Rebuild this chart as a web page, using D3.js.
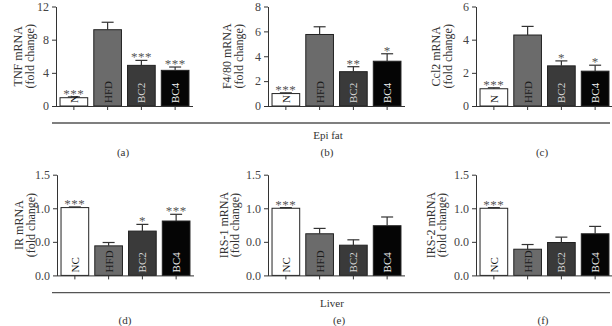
<!DOCTYPE html>
<html lang="en">
<head>
  <meta charset="UTF-8">
  <title>Epi fat / Liver mRNA</title>
  <script src="https://d3js.org/d3.v7.min.js"></script>
  <style>
    body { margin: 0; background: #fff; }
    svg text { font-family: "Liberation Serif", "Times New Roman", serif; fill: #333; }
  </style>
</head>
<body>
  <div id="chart"></div>
  <script>
    // groups shown in every panel
    const groups = ["NC", "HFD", "BC2", "BC4"];
    const topBarText = ["N", "HFD", "BC2", "BC4"];

    // Epi fat (top row) - mean and error (SEM)
    const tnfMean = [1.0, 9.2, 4.9, 4.3];
    const tnfErr = [0.1, 0.9, 0.6, 0.4];
    const tnfStars = ["***", "", "***", "***"];

    const f480Mean = [1.0, 5.75, 2.76, 3.6];
    const f480Err = [0.06, 0.62, 0.4, 0.6];
    const f480Stars = ["***", "", "**", "*"];

    const ccl2Mean = [1.04, 4.28, 2.42, 2.1];
    const ccl2Err = [0.06, 0.52, 0.3, 0.36];
    const ccl2Stars = ["***", "", "*", "*"];

    // Liver (bottom row)
    const irMean = [1.01, 0.44, 0.66, 0.81];
    const irErr = [0.01, 0.05, 0.1, 0.1];
    const irStars = ["***", "", "*", "***"];

    const irs1Mean = [1.0, 0.62, 0.45, 0.74];
    const irs1Err = [0.01, 0.08, 0.08, 0.13];
    const irs1Stars = ["***", "", "", ""];

    const irs2Mean = [1.0, 0.39, 0.49, 0.62];
    const irs2Err = [0.01, 0.07, 0.08, 0.11];
    const irs2Stars = ["***", "", "", ""];

    // tick values and the labels printed in the figure
    const ticksA = [0, 4, 8, 12];
    const ticksB = [0, 2, 4, 6, 8];
    const ticksC = [0, 2, 4, 6];
    const ticksLiver = [0, 0.5, 1.0, 1.5];
    const ticksLiverText = ["0.0", "0.0", "1.0", "1.5"];

    const fillColors = ["#ffffff", "#6b6b6b", "#3a3a3a", "#050505"];
    const labelColors = ["#111", "#1a1a1a", "#d8d8d8", "#f2f2f2"];

    const W = 612, H = 326;
    const svg = d3.select("#chart").append("svg")
      .attr("width", W).attr("height", H);

    // panel layout
    const panels = [
      { x0: 56, yTop: 6.5, yBase: 106, max: 12, ticks: ticksA, tickText: null, title: "TNF mRNA", mean: tnfMean, err: tnfErr, stars: tnfStars, barText: topBarText, lab: [-37, -25] },
      { x0: 268, yTop: 6.5, yBase: 106, max: 8, ticks: ticksB, tickText: null, title: "F4/80 mRNA", mean: f480Mean, err: f480Err, stars: f480Stars, barText: topBarText, lab: [-40, -28] },
      { x0: 476, yTop: 6.5, yBase: 106, max: 6, ticks: ticksC, tickText: null, title: "Ccl2 mRNA", mean: ccl2Mean, err: ccl2Err, stars: ccl2Stars, barText: topBarText, lab: [-39, -27] },
      { x0: 57, yTop: 174.7, yBase: 275.4, max: 1.5, ticks: ticksLiver, tickText: ticksLiverText, title: "IR mRNA", mean: irMean, err: irErr, stars: irStars, barText: groups, lab: [-37, -25] },
      { x0: 268, yTop: 174.7, yBase: 275.4, max: 1.5, ticks: ticksLiver, tickText: ticksLiverText, title: "IRS-1 mRNA", mean: irs1Mean, err: irs1Err, stars: irs1Stars, barText: groups, lab: [-43, -32] },
      { x0: 476, yTop: 174.7, yBase: 275.4, max: 1.5, ticks: ticksLiver, tickText: ticksLiverText, title: "IRS-2 mRNA", mean: irs2Mean, err: irs2Err, stars: irs2Stars, barText: groups, lab: [-44, -33] }
    ];

    panels.forEach(p => {
      const g = svg.append("g");

      const x = d3.scaleBand()
        .domain(groups)
        .range([p.x0 + 2, p.x0 + 135])
        .paddingInner(0.18)
        .paddingOuter(0.06);

      const y = d3.scaleLinear()
        .domain([0, p.max])
        .range([p.yBase, p.yTop]);

      const rows = groups.map((k, i) => ({
        key: k, mean: p.mean[i], err: p.err[i], star: p.stars[i],
        text: p.barText[i], fill: fillColors[i], tc: labelColors[i]
      }));

      // bars
      g.selectAll("rect.bar")
        .data(rows)
        .join("rect")
        .attr("class", "bar")
        .attr("x", d => x(d.key))
        .attr("y", d => y(d.mean))
        .attr("width", x.bandwidth())
        .attr("height", d => y(0) - y(d.mean))
        .attr("fill", d => d.fill)
        .attr("stroke", "#222")
        .attr("stroke-width", 1);

      // error bars (upper only)
      const cx = d => x(d.key) + x.bandwidth() / 2;
      g.selectAll("line.err")
        .data(rows)
        .join("line")
        .attr("x1", cx).attr("x2", cx)
        .attr("y1", d => y(d.mean))
        .attr("y2", d => y(d.mean + d.err))
        .attr("stroke", "#333").attr("stroke-width", 1.2);
      g.selectAll("line.cap")
        .data(rows)
        .join("line")
        .attr("x1", d => cx(d) - 6).attr("x2", d => cx(d) + 6)
        .attr("y1", d => y(d.mean + d.err))
        .attr("y2", d => y(d.mean + d.err))
        .attr("stroke", "#333").attr("stroke-width", 1.2);

      // significance stars
      g.selectAll("text.star")
        .data(rows.filter(d => d.star))
        .join("text")
        .attr("x", cx)
        .attr("y", d => y(d.mean + d.err) + 1)
        .attr("text-anchor", "middle")
        .attr("font-size", 13)
        .attr("letter-spacing", 0.5)
        .style("fill", "#555")
        .text(d => d.star);

      // labels inside the bars
      g.selectAll("text.blab")
        .data(rows)
        .join("text")
        .attr("transform", d => `translate(${cx(d) + 4},${y(0) - 3}) rotate(-90)`)
        .attr("font-size", 11)
        .style("fill", d => d.tc)
        .text(d => d.text);

      // y axis
      const yAxis = d3.axisLeft(y)
        .tickValues(p.ticks)
        .tickSize(4)
        .tickSizeOuter(0)
        .tickFormat((d, i) => p.tickText ? p.tickText[i] : d3.format("d")(d));
      const ya = g.append("g")
        .attr("transform", `translate(${p.x0},0)`)
        .call(yAxis)
        .attr("font-family", null)
        .attr("font-size", null);
      ya.select(".domain").attr("stroke", "#333");
      ya.selectAll(".tick line").attr("stroke", "#333");
      ya.selectAll(".tick text")
        .attr("font-size", 12)
        .attr("x", -7)
        .style("fill", "#444");

      // x axis baseline with ticks under each bar
      const xa = g.append("g")
        .attr("transform", `translate(0,${p.yBase})`)
        .call(d3.axisBottom(x).tickSize(4).tickSizeOuter(0).tickFormat(""));
      xa.select(".domain")
        .attr("d", `M${p.x0},0.5H${p.x0 + 137}`)
        .attr("stroke", "#333");
      xa.selectAll(".tick line").attr("stroke", "#333");

      // y title in two lines
      const ym = (p.yTop + p.yBase) / 2;
      [p.title, "(fold change)"].forEach((t, i) => {
        g.append("text")
          .attr("transform", `translate(${p.x0 + p.lab[i]},${ym}) rotate(-90)`)
          .attr("text-anchor", "middle")
          .attr("dominant-baseline", "middle")
          .attr("font-size", 12)
          .text(t);
      });
    });

    // row separators, tissue names and panel letters
    const rowLines = [{ y: 123, name: "Epi fat", nx: 328, ny: 139, ly: 156 }, { y: 292.7, name: "Liver", nx: 332, ny: 307, ly: 324 }];
    rowLines.forEach(r => {
      svg.append("line")
        .attr("x1", 52).attr("x2", 610)
        .attr("y1", r.y).attr("y2", r.y)
        .attr("stroke", "#555").attr("stroke-width", 1.3);
      svg.append("text")
        .attr("x", r.nx).attr("y", r.ny)
        .attr("text-anchor", "middle")
        .attr("font-size", 11)
        .text(r.name);
    });

    const letters = ["(a)", "(b)", "(c)", "(d)", "(e)", "(f)"];
    const letterX = [123, 327, 542, 125, 339, 543];
    letters.forEach((t, i) => {
      svg.append("text")
        .attr("x", letterX[i])
        .attr("y", i < 3 ? 156 : 324)
        .attr("text-anchor", "middle")
        .attr("font-size", 11)
        .text(t);
    });
  </script>
</body>
</html>
